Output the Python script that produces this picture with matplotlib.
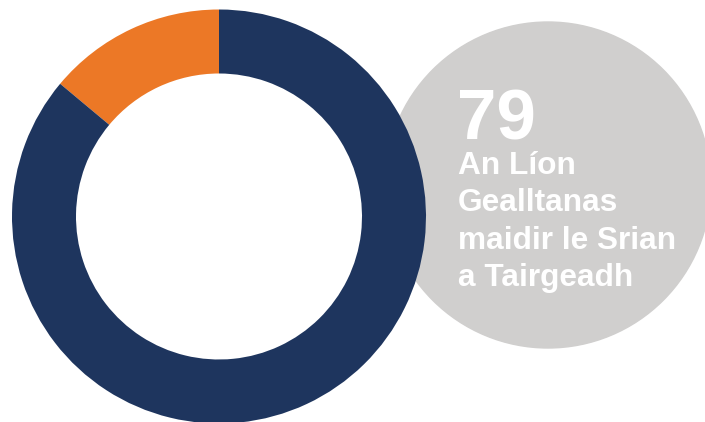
import matplotlib.pyplot as plt
from matplotlib.patches import Circle

# donut values (orange share, total 79)
labels = ["Srian", "Eile"]
values = [11, 68]
colors = ["#EC7826", "#1E355E"]

big_number = "79"
caption_lines = ["An Líon", "Gealltanas", "maidir le Srian", "a Tairgeadh"]

W, H = 705, 422
fig = plt.figure(figsize=(W / 100, H / 100), dpi=100)
ax = fig.add_axes([0, 0, 1, 1])

# grey bubble behind the donut
bubble = Circle((548, H - 185), 163, color="#D0CFCE", zorder=1)
ax.add_patch(bubble)

ax.pie(values, colors=colors, startangle=90, counterclock=True,
       center=(219, H - 216.5), radius=207,
       wedgeprops=dict(width=64, linewidth=0, zorder=2))

font = ["Liberation Sans", "DejaVu Sans"]
ax.text(457, H - 139, big_number, color="white", fontsize=51,
        fontweight="bold", family=font, ha="left", va="baseline", zorder=3)
for i, line in enumerate(caption_lines):
    ax.text(458, H - 174 - i * 37.3, line, color="white", fontsize=22.8,
            fontweight="bold", family=font, ha="left", va="baseline", zorder=3)

ax.set_xlim(0, W)
ax.set_ylim(0, H)
ax.set_aspect("equal")
ax.axis("off")

fig.savefig("out.png", dpi=100)
